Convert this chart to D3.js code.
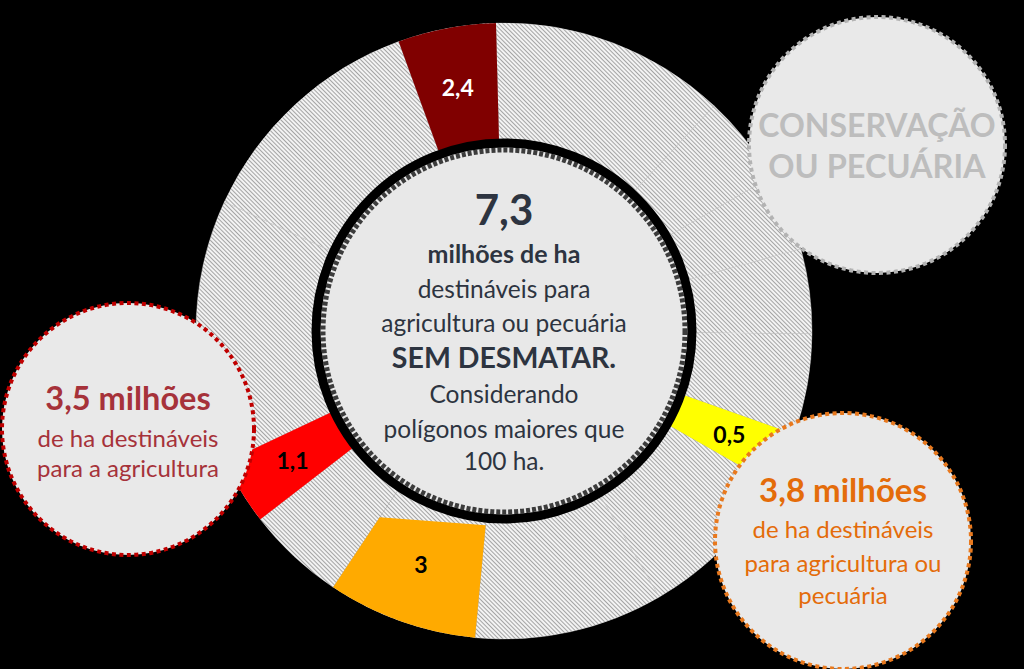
<!DOCTYPE html>
<html><head><meta charset="utf-8">
<script src="https://cdn.jsdelivr.net/npm/d3@7"></script>
<style>html,body{margin:0;padding:0;background:#000;} svg{display:block;}</style>
</head><body>
<svg id="chart" width="1024" height="669"></svg>
<script>
// ---------- DATA ----------
// angular share of each ring segment (degrees), clockwise from the 2,4 slice
const sliceValues = [18.5, 44.5, 17, 14.5, 16, 19.1, 10.1, 30, 35.7, 28.3, 18.6, 12.5, 50, 45.2];
const sliceLabels = ["2,4", "", "", "", "", "", "0,5", "", "", "3", "", "1,1", "", ""];
const sliceKinds  = ["darkred", "gray", "gray", "gray", "gray", "gray", "yellow", "gray", "gray", "orange", "gray", "red", "gray", "gray"];

const centerLines = ["7,3", "milhões de ha", "destináveis para", "agricultura ou pecuária", "SEM DESMATAR.", "Considerando", "polígonos maiores que", "100 ha."];
const grayCallout   = ["CONSERVAÇÃO", "OU PECUÁRIA"];
const redCallout    = ["3,5 milhões", "de ha destináveis", "para a agricultura"];
const orangeCallout = ["3,8 milhões", "de ha destináveis", "para agricultura ou", "pecuária"];

// ---------- STYLE / LAYOUT ----------
const FONT = "Lato, 'Open Sans', sans-serif";
const kindFill = {darkred: "#800000", yellow: "#ffff00", orange: "#ffaa00", red: "#ff0000"};
const kindText = {darkred: "#ffffff", yellow: "#000000", orange: "#000000", red: "#000000"};
const cx = 504, cy = 331, rOuter = 308, rInner = 192;
const innerStartR = {orange: 195};   // orange slice inner edge is a straight chord
const innerEndR   = {orange: 224};

const svg = d3.select("#chart");
svg.append("rect").attr("width", 1024).attr("height", 669).attr("fill", "#000");

const defs = svg.append("defs");
const pat = defs.append("pattern").attr("id", "hatch")
  .attr("patternUnits", "userSpaceOnUse").attr("width", 3).attr("height", 10)
  .attr("patternTransform", "rotate(-45)");
pat.append("rect").attr("width", 3).attr("height", 10).attr("fill", "#f3f3f3");
pat.append("rect").attr("width", 1).attr("height", 10).attr("fill", "#a4a4a4");

const g = svg.append("g").attr("transform", `translate(${cx},${cy})`);
const deg = Math.PI / 180;
const pie = d3.pie().sort(null).value(d => d).startAngle(-20 * deg).endAngle(340 * deg);
const arcs = pie(sliceValues).map((a, i) => ({...a, label: sliceLabels[i], kind: sliceKinds[i]}));

// hatched base ring (all segments) with faint separators between the gray ones
const grayArc = d3.arc().innerRadius(rInner - 10).outerRadius(rOuter);
g.selectAll("path.base").data(arcs).join("path")
  .attr("class", "base").attr("d", grayArc).attr("fill", "url(#hatch)");
g.selectAll("path.gray").data(arcs.filter(d => d.kind === "gray")).join("path")
  .attr("class", "gray").attr("d", grayArc).attr("fill", "none")
  .attr("stroke", "#e6e6e6").attr("stroke-opacity", 0.55).attr("stroke-width", 0.7);

const radial = d3.lineRadial().angle(p => p[0]).radius(p => p[1]);
function slicePath(d) {
  const r0 = innerStartR[d.kind] || rInner, r1 = innerEndR[d.kind] || rInner;
  const pts = [[d.startAngle, r0]];
  const n = 40;
  for (let k = 0; k <= n; k++) pts.push([d.startAngle + (d.endAngle - d.startAngle) * k / n, rOuter]);
  pts.push([d.endAngle, r1]);
  return radial(pts) + "Z";
}
const colored = arcs.filter(d => d.kind !== "gray");
g.selectAll("path.col").data(colored).join("path")
  .attr("class", "col").attr("d", slicePath).attr("fill", d => kindFill[d.kind]);

// centre disc with black ring
g.append("circle").attr("r", 188).attr("fill", "#e8e8e8");
g.append("circle").attr("r", 181).attr("fill", "none").attr("stroke", "#3c3c3c")
  .attr("stroke-width", 5).attr("stroke-dasharray", "4 2");
g.append("circle").attr("r", 188).attr("fill", "none").attr("stroke", "#000").attr("stroke-width", 9);

// slice labels
const labelArc = d3.arc().innerRadius(248).outerRadius(248);
g.selectAll("text.lab").data(colored).join("text")
  .attr("class", "lab")
  .attr("x", d => labelArc.centroid(d)[0]).attr("y", d => labelArc.centroid(d)[1])
  .attr("text-anchor", "middle").attr("dy", "0.36em")
  .attr("font-family", FONT).attr("font-weight", 700).attr("font-size", 23)
  .attr("fill", d => kindText[d.kind]).text(d => d.label);

// centre text
const centerStyle = [
  {y: 225, size: 42, w: 700}, {y: 263, size: 25, w: 700}, {y: 298, size: 24.5, w: 400},
  {y: 332, size: 24.5, w: 400}, {y: 368, size: 28.5, w: 700}, {y: 403, size: 24.5, w: 400},
  {y: 438, size: 24.5, w: 400}, {y: 470, size: 24.5, w: 400}];
svg.append("g").selectAll("text").data(centerLines).join("text")
  .attr("x", cx).attr("y", (d, i) => centerStyle[i].y).attr("text-anchor", "middle")
  .attr("font-family", FONT).attr("font-size", (d, i) => centerStyle[i].size)
  .attr("font-weight", (d, i) => centerStyle[i].w).attr("fill", "#2d3440").text(d => d);

// callouts
function callout(lines, o) {
  const cg = svg.append("g");
  cg.append("circle").attr("cx", o.x).attr("cy", o.y).attr("r", o.r)
    .attr("fill", "#e9e9e9").attr("stroke", o.stroke).attr("stroke-width", 4)
    .attr("stroke-dasharray", "4 3.5");
  cg.selectAll("text").data(lines).join("text")
    .attr("x", o.x).attr("y", (d, i) => o.ys[i]).attr("text-anchor", "middle")
    .attr("font-family", FONT).attr("font-size", (d, i) => o.sizes[i])
    .attr("font-weight", (d, i) => o.weights[i]).attr("fill", o.color).text(d => d);
}
callout(grayCallout, {x: 877, y: 145, r: 128, stroke: "#b3b3b3", color: "#bdbdbd",
  ys: [137, 178], sizes: [32, 32.5], weights: [700, 700]});
callout(redCallout, {x: 128, y: 429, r: 126, stroke: "#c00000", color: "#a6323a",
  ys: [410, 447, 477], sizes: [32.5, 24, 24], weights: [700, 400, 400]});
callout(orangeCallout, {x: 843, y: 541, r: 128, stroke: "#e8791e", color: "#e46c0a",
  ys: [502, 538, 572, 604], sizes: [33, 24, 24, 24], weights: [700, 400, 400, 400]});
</script>
</body></html>
